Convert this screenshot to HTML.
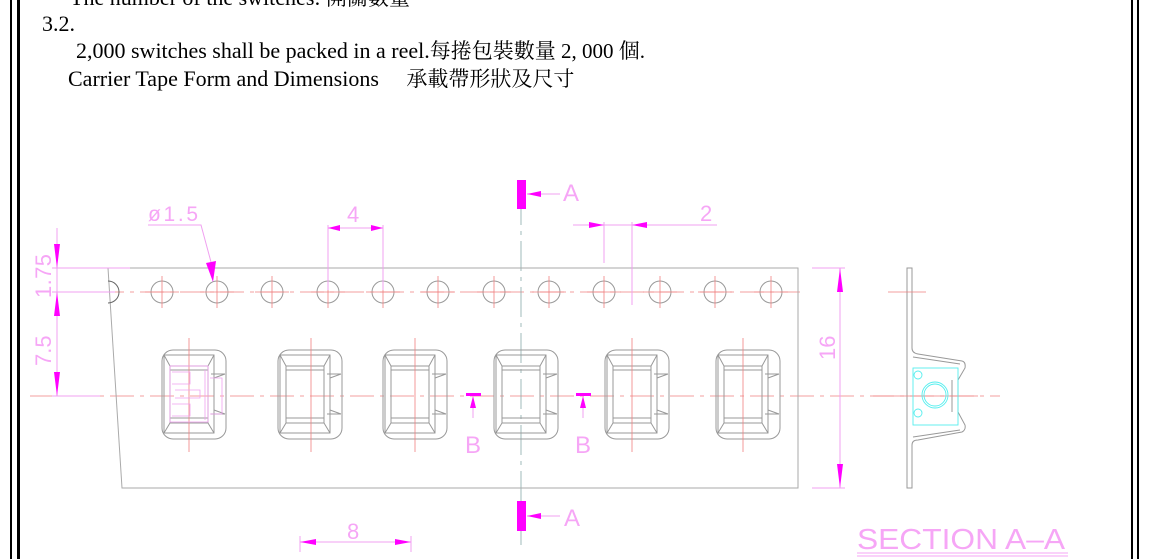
<!DOCTYPE html>
<html><head><meta charset="utf-8"><style>
html,body{margin:0;padding:0;background:#fff;}
body{width:1150px;height:559px;overflow:hidden;position:relative;}
.t{position:absolute;font-family:"Liberation Serif","Noto Serif CJK SC","Noto Sans CJK TC",serif;font-size:22px;color:#000;white-space:nowrap;line-height:1;}
.c{font-size:21px;}
svg{position:absolute;left:0;top:0;}
</style></head><body>
<svg width="1150" height="559" viewBox="0 0 1150 559">
<defs>
<g id="pk" fill="none" stroke="#999" stroke-width="1">
<rect x="0" y="0" width="64" height="89" rx="11"/>
<path d="M2 5 H52 V83 H2 Z"/>
<path d="M8 16 H46 V73 H8 Z"/>
<path d="M2 5 L8 16 M52 5 L46 16 M2 83 L8 73 M52 83 L46 73"/>
<path d="M8 20 H46 M8 68 H46"/>
<path d="M49 24 H63 M49 64 H63 M52 28 V60 M52 28 L63 24 M52 60 L63 64"/>
</g>
<g id="hole"><circle cx="0" cy="0" r="11" fill="none" stroke="#999"/><path d="M-17 0 H17 M0 -16 V16" stroke="#f08080" stroke-width="0.8"/></g>
</defs>
<rect x="10" y="0" width="2" height="559" fill="#000"/>
<rect x="17" y="0" width="3" height="559" fill="#000"/>
<rect x="1131" y="0" width="2" height="559" fill="#000"/>
<rect x="1137" y="0" width="2" height="559" fill="#000"/>
<path d="M30 396 H1000" stroke="#f08080" stroke-width="0.8" stroke-dasharray="24 6 4 6"/>
<path d="M100 292 H800" stroke="#f08080" stroke-width="0.8" stroke-dasharray="24 6 4 6"/>
<path d="M521 195 V545" stroke="#8aa" stroke-width="0.8" stroke-dasharray="30 6 4 6"/>
<path d="M108 268 H798 V488 H122 Z" fill="none" stroke="#aaa"/>
<path d="M108 281 A11 11 0 0 1 108 303" fill="none" stroke="#666"/>
<use href="#hole" x="162" y="292"/><use href="#hole" x="217" y="292"/><use href="#hole" x="272" y="292"/><use href="#hole" x="328" y="292"/><use href="#hole" x="383" y="292"/><use href="#hole" x="438" y="292"/><use href="#hole" x="494" y="292"/><use href="#hole" x="549" y="292"/><use href="#hole" x="604" y="292"/><use href="#hole" x="660" y="292"/><use href="#hole" x="715" y="292"/><use href="#hole" x="771" y="292"/>
<use href="#pk" x="162" y="350"/><use href="#pk" x="278" y="350"/><use href="#pk" x="383" y="350"/><use href="#pk" x="494" y="350"/><use href="#pk" x="605" y="350"/><use href="#pk" x="716" y="350"/>
<g stroke="#f08080" stroke-width="0.8">
<path d="M189 338 V452 M311 338 V452 M415 338 V452 M632 338 V452 M743 338 V452"/>
</g>
<g fill="none" stroke="#f0a0f0" stroke-width="0.8">
<rect x="170" y="366" width="38" height="56"/><path d="M172 372 H190 V384 H172 M172 404 H190 V416 H172 M175 390 H200 V398 H175 M205 370 V420 M210 378 H222 V414 H210"/>
</g>
<g stroke="#f0a0f0" stroke-width="1" fill="none">
<path d="M52 268 H130 M52 292 H115 M52 396 H100 M57 228 V396"/>
<path d="M328 225 V290 M383 225 V290 M328 228 H383"/>
<path d="M573 225 H717 M604 222 V263 M632 222 V305"/>
<path d="M148 225 H201 L211 262"/>
<path d="M812 268 H845 M812 488 H845 M840 268 V488"/>
<path d="M300 536 V552 M411 536 V552 M300 542 H411"/>
<path d="M527 194 H560 M527 516 H560"/>
<path d="M473 398 V418 M583 398 V418"/>
</g>
<g fill="#f0f">
<path d="M54 244 L60 244 L57 268 Z M54 316 L60 316 L57 292 Z M54 372 L60 372 L57 396 Z"/>
<path d="M328 228 L340 225 L340 231 Z M383 228 L371 225 L371 231 Z"/>
<path d="M604 225 L589 222 L589 228 Z M632 225 L647 222 L647 228 Z"/>
<path d="M213 282 L206 263 L216 261 Z"/>
<path d="M840 268 L837 292 L843 292 Z M840 488 L837 464 L843 464 Z"/>
<path d="M300 542 L316 539 L316 545 Z M411 542 L395 539 L395 545 Z"/>
<rect x="517" y="180" width="9" height="29"/><path d="M527 194 L541 191 L541 197 Z"/>
<rect x="517" y="501" width="9" height="30"/><path d="M527 516 L541 513 L541 519 Z"/>
<rect x="466" y="393" width="15" height="3"/><path d="M473 396 L470 408 L476 408 Z"/>
<rect x="576" y="393" width="15" height="3"/><path d="M583 396 L580 408 L586 408 Z"/>
</g>
<g font-family="Liberation Sans,sans-serif" fill="#f6a6f6" font-size="22">
<text x="148" y="221" font-size="21" textLength="50">ø1.5</text>
<text x="347" y="222">4</text>
<text x="700" y="221">2</text>
<text x="563" y="201" font-size="24">A</text>
<text x="564" y="526" font-size="24">A</text>
<text x="465" y="453" font-size="24">B</text>
<text x="575" y="453" font-size="24">B</text>
<text x="347" y="539">8</text>
<text transform="translate(51 298) rotate(-90)" textLength="44">1.75</text>
<text transform="translate(51 366) rotate(-90)">7.5</text>
<text transform="translate(835 360) rotate(-90)">16</text>
<text x="857" y="549" font-size="29" textLength="208" lengthAdjust="spacingAndGlyphs">SECTION A–A</text>
</g>
<path d="M857 553 H1068 M857 556 H1068" stroke="#f6a6f6"/>
<g fill="none" stroke="#999">
<path d="M907 268 V488 H912 V445 Q912 440 918 440 L962 432 Q966 430 965 425 L958 412 V380 L965 368 Q966 362 962 361 L918 354 Q912 353 912 348 V268 Z"/>
<path d="M913 357 L960 364 M913 437 L960 430 M952 380 V412"/>
</g>
<path d="M873 396 H978 M888 292 H926" stroke="#f08080" stroke-width="0.8"/>
<g fill="none" stroke="#5ee" stroke-width="0.9">
<rect x="913" y="368" width="45" height="57"/>
<circle cx="935" cy="395" r="13"/><circle cx="935" cy="395" r="11"/>
<circle cx="918" cy="375" r="4"/><circle cx="918" cy="413" r="4"/>
</g>
</svg>
<div class="t" style="left:70px;top:-13px;">The number of the switches: <span class="c">開關數量</span></div>
<div class="t" style="left:42px;top:13px;">3.2.</div>
<div class="t" style="left:76px;top:40px;">2,000 switches shall be packed in a reel.<span class="c">每捲包裝數量 2, 000 個.</span></div>
<div class="t" style="left:68px;top:68px;">Carrier Tape Form and Dimensions　 <span class="c">承載帶形狀及尺寸</span></div>
</body></html>
